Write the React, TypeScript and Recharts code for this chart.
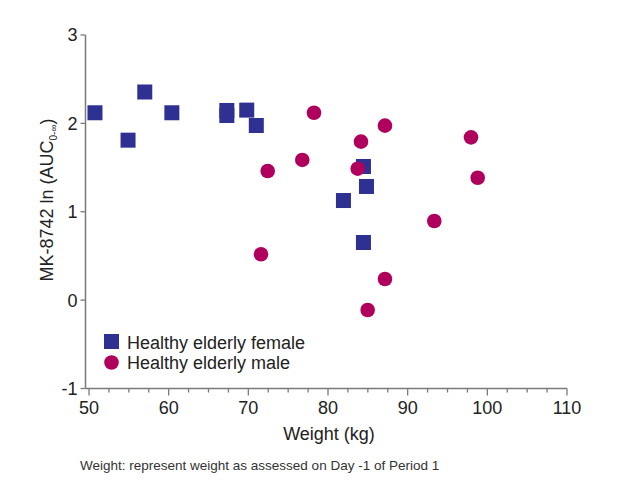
import { ScatterChart, Scatter, XAxis, YAxis } from 'recharts';

// Weight (kg) and MK-8742 ln(AUC0-inf)
const femaleWeight = [50.75, 54.9, 57.0, 60.4, 67.3, 67.3, 69.8, 71.0, 84.45, 84.83, 81.94, 84.45];
const femaleLnAuc = [2.12, 1.81, 2.355, 2.12, 2.146, 2.089, 2.15, 1.976, 1.512, 1.286, 1.127, 0.652];

const maleWeight = [78.24, 87.15, 84.14, 97.95, 76.77, 72.43, 83.73, 98.79, 93.34, 71.59, 87.15, 84.98];
const maleLnAuc = [2.12, 1.974, 1.793, 1.842, 1.586, 1.461, 1.487, 1.385, 0.895, 0.519, 0.239, -0.112];

const xTicks = [50, 52.5, 55, 57.5, 60, 62.5, 65, 67.5, 70, 72.5, 75, 77.5, 80, 82.5, 85, 87.5, 90, 92.5, 95, 97.5, 100, 102.5, 105, 107.5, 110];
const yTicks = [-1, 0, 1, 2, 3];

const seriesNames = ['Healthy elderly female', 'Healthy elderly male'];
const footnote = 'Weight: represent weight as assessed on Day -1 of Period 1';

const FEMALE_COLOR = '#2e3192';
const MALE_COLOR = '#b0005e';
const AXIS_COLOR = '#7a7a7a';
const TEXT_COLOR = '#222';
const FONT = '"Liberation Sans", Arial, sans-serif';

const femaleData = femaleWeight.map((w, i) => ({ weight: w, lnAuc: femaleLnAuc[i] }));
const maleData = maleWeight.map((w, i) => ({ weight: w, lnAuc: maleLnAuc[i] }));

const SquareShape = (props: { cx?: number; cy?: number }) => {
  const { cx, cy } = props;
  if (cx == null || cy == null) return null;
  return <rect x={cx - 7.5} y={cy - 7.5} width={15} height={15} fill={FEMALE_COLOR} />;
};

const CircleShape = (props: { cx?: number; cy?: number }) => {
  const { cx, cy } = props;
  if (cx == null || cy == null) return null;
  return <circle cx={cx} cy={cy} r={7.3} fill={MALE_COLOR} />;
};

// major ticks every 10 kg with a label, minor ticks every 2.5 kg
const WeightTick = (props: { x?: number; y?: number; payload?: { value: number } }) => {
  const { x = 0, y = 0, payload } = props;
  const major = payload ? payload.value % 10 === 0 : false;
  return (
    <g>
      <line x1={x} x2={x} y1={y} y2={y + (major ? 7 : 4)} stroke={AXIS_COLOR} strokeWidth={1.3} />
      {major && (
        <text x={x} y={y + 25} textAnchor="middle" fontSize={18} fill={TEXT_COLOR} fontFamily={FONT}>
          {payload!.value}
        </text>
      )}
    </g>
  );
};

const YLabel = () => (
  <text
    x={53}
    y={200}
    transform="rotate(-90, 53, 200)"
    textAnchor="middle"
    fontSize={18}
    fill={TEXT_COLOR}
    fontFamily={FONT}
  >
    MK-8742 ln (AUC
    <tspan fontSize={10} dy={4}>0-∞</tspan>
    <tspan dy={-4}>)</tspan>
  </text>
);

const XLabel = () => (
  <text x={329} y={440} textAnchor="middle" fontSize={18} fill={TEXT_COLOR} fontFamily={FONT}>
    Weight (kg)
  </text>
);

const Overlay = () => (
  <svg
    width={619}
    height={481}
    style={{ position: 'absolute', left: 0, top: 0, pointerEvents: 'none' }}
    fontFamily={FONT}
  >
    <rect x={104} y={334} width={15} height={15} fill={FEMALE_COLOR} />
    <text x={127} y={348.5} fontSize={18} fill={TEXT_COLOR}>
      {seriesNames[0]}
    </text>
    <circle cx={111.5} cy={362.5} r={7.3} fill={MALE_COLOR} />
    <text x={127} y={369} fontSize={18} fill={TEXT_COLOR}>
      {seriesNames[1]}
    </text>
    <text x={80} y={470} fontSize={13.5} fill="#333">
      {footnote}
    </text>
  </svg>
);

export default function App() {
  return (
    <div style={{ position: 'relative', width: 619, height: 481, background: '#fff' }}>
      <style>{'body{margin:0;}'}</style>
      <ScatterChart
        width={619}
        height={481}
        margin={{ top: 35, right: 52, bottom: 62.5, left: 25.5 }}
        style={{ fontFamily: FONT }}
      >
        <XAxis
          type="number"
          dataKey="weight"
          domain={[49.56, 110]}
          ticks={xTicks}
          interval={0}
          allowDataOverflow
          height={30}
          tickSize={0}
          tickMargin={0}
          tickLine={false}
          tick={<WeightTick />}
          axisLine={{ stroke: AXIS_COLOR, strokeWidth: 1.5 }}
          label={<XLabel />}
        />
        <YAxis
          type="number"
          dataKey="lnAuc"
          domain={[-1, 3]}
          ticks={yTicks}
          interval={0}
          width={60}
          tickSize={5}
          tickMargin={3}
          tickLine={{ stroke: AXIS_COLOR, strokeWidth: 1.3 }}
          axisLine={{ stroke: AXIS_COLOR, strokeWidth: 1.5 }}
          tick={{ fontSize: 18, fill: TEXT_COLOR, fontFamily: FONT }}
          label={<YLabel />}
        />
        <Scatter name={seriesNames[0]} data={femaleData} shape={<SquareShape />} isAnimationActive={false} />
        <Scatter name={seriesNames[1]} data={maleData} shape={<CircleShape />} isAnimationActive={false} />
      </ScatterChart>
      <Overlay />
    </div>
  );
}
